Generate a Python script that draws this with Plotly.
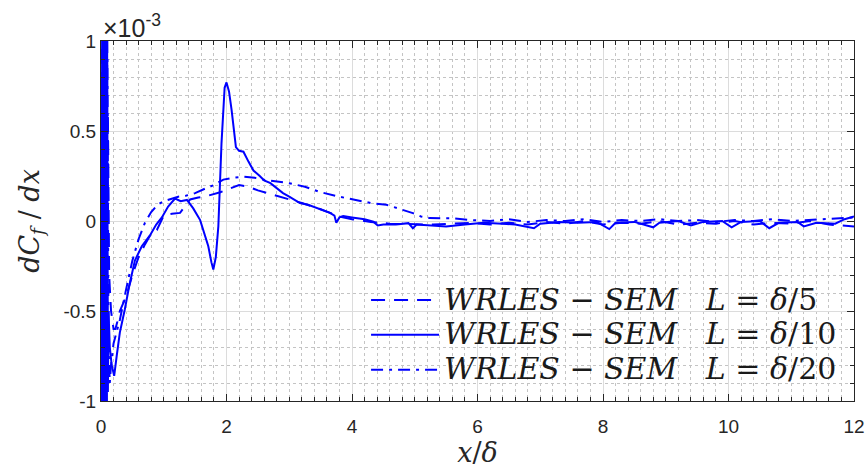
import plotly.graph_objects as go

# units of 1e-3
x_d5 = [0, 0.015, 0.03, 0.045, 0.06, 0.075, 0.09, 0.11, 0.13, 0.16, 0.2, 0.23, 0.26, 0.3, 0.4, 0.5, 0.6,
        0.7, 0.8, 0.89, 1.0, 1.13, 1.26, 1.35, 1.42, 1.55, 1.7, 1.9, 2.05, 2.2, 2.35, 2.5, 2.65, 2.8, 3.0,
        3.2, 3.5, 3.7, 3.8, 4.0, 4.3, 4.6, 5.0, 5.3, 5.6, 5.9, 6.2, 6.5, 6.8, 7.1, 7.4, 7.7, 8.0, 8.3,
        8.6, 8.9, 9.2, 9.5, 9.8, 10.1, 10.4, 10.7, 11.0, 11.3, 11.6, 11.8, 12.0]
y_d5 = [-0.4, 2.0, -2.0, 1.8, -1.5, 1.5, -1.1, 0.6, -0.3, -0.5, -0.6, -0.6, -0.56, -0.5, -0.42, -0.3, -0.2,
        -0.13, -0.07, -0.05, 0.03, 0.04, 0.045, 0.09, 0.12, 0.13, 0.14, 0.16, 0.18, 0.2, 0.19, 0.17, 0.155,
        0.14, 0.12, 0.1, 0.065, 0.04, 0.025, 0.01, -0.005, -0.015, -0.02, -0.02, -0.015, -0.01, -0.02,
        -0.01, -0.02, -0.005, -0.015, 0.0, -0.02, -0.01, -0.015, 0.0, -0.02, -0.01, -0.015, 0.0, -0.02,
        -0.01, -0.015, 0.0, -0.02, -0.025, -0.03]

x_d10 = [0, 0.01, 0.02, 0.03, 0.04, 0.05, 0.06, 0.07, 0.08, 0.09, 0.10, 0.11, 0.12, 0.14, 0.17, 0.21,
         0.25, 0.3, 0.38, 0.45, 0.54, 0.65, 0.78, 0.88, 0.97, 1.07, 1.18, 1.27, 1.37, 1.47, 1.58, 1.65,
         1.71, 1.76, 1.79, 1.83, 1.87, 1.92, 1.97, 2.0, 2.04, 2.08, 2.12, 2.15, 2.2, 2.27, 2.35, 2.43,
         2.53, 2.6, 2.7, 2.8, 2.9, 3.0, 3.17, 3.3, 3.45, 3.55, 3.65, 3.72, 3.75, 3.8, 3.86, 4.0, 4.2,
         4.34, 4.41, 4.5, 4.7, 4.9, 4.97, 5.03, 5.2, 5.5, 5.8, 6.1, 6.4, 6.6, 6.9, 7.0, 7.3, 7.6, 7.9,
         8.1, 8.2, 8.5, 8.8, 8.9, 9.2, 9.4, 9.6, 9.9, 10.05, 10.2, 10.5, 10.65, 10.8, 11.1, 11.2, 11.4,
         11.7, 11.85, 12.0]
y_d10 = [0.8, -2.5, 2.5, -2.0, 2.2, -1.8, 1.6, -1.5, 1.3, -1.2, 0.9, -0.95, -0.5, -0.7, -0.8, -0.86,
         -0.75, -0.62, -0.49, -0.36, -0.22, -0.14, -0.08, -0.02, 0.02, 0.08, 0.125, 0.11, 0.117, 0.07,
         0.005, -0.07, -0.14, -0.23, -0.27, -0.2, -0.03, 0.43, 0.74, 0.77, 0.72, 0.62, 0.48, 0.41, 0.39,
         0.385, 0.33, 0.28, 0.25, 0.225, 0.21, 0.18, 0.155, 0.135, 0.10, 0.09, 0.07, 0.055, 0.045, 0.03,
         -0.01, 0.02, 0.028, 0.02, 0.01, -0.004, -0.025, -0.02, -0.02, -0.012, -0.04, -0.02, -0.025,
         -0.03, -0.02, -0.01, -0.015, -0.02, -0.04, -0.015, -0.005, -0.01, -0.005, -0.045, -0.01,
         -0.005, -0.035, -0.01, 0.0, -0.025, -0.005, 0.0, -0.035, -0.005, 0.0, -0.04, -0.01, -0.005,
         -0.03, -0.01, -0.015, 0.01, 0.025]

x_d20 = [0, 0.02, 0.035, 0.05, 0.065, 0.08, 0.1, 0.12, 0.14, 0.16, 0.2, 0.3, 0.4, 0.5, 0.6, 0.7, 0.8,
         0.9, 1.0, 1.1, 1.23, 1.35, 1.5, 1.66, 1.8, 1.95, 2.1, 2.27, 2.45, 2.58, 2.8, 3.0, 3.25, 3.5,
         3.8, 4.07, 4.3, 4.55, 4.75, 4.97, 5.1, 5.24, 5.6, 5.9, 6.2, 6.5, 6.8, 7.1, 7.4, 7.7, 8.0, 8.3,
         8.6, 8.9, 9.2, 9.5, 9.8, 10.1, 10.4, 10.7, 11.0, 11.3, 11.6, 11.8, 12.0]
y_d20 = [0.3, -1.8, 2.0, -1.6, 1.4, -1.3, 1.1, -0.7, -0.9, -0.8, -0.68, -0.55, -0.38, -0.22, -0.1,
         -0.01, 0.05, 0.09, 0.11, 0.12, 0.135, 0.14, 0.155, 0.18, 0.2, 0.23, 0.24, 0.246, 0.24, 0.23,
         0.22, 0.21, 0.19, 0.16, 0.135, 0.117, 0.1, 0.09, 0.07, 0.044, 0.025, 0.016, 0.015, 0.005, 0.0,
         0.01, -0.005, 0.005, 0.0, 0.01, -0.005, 0.005, 0.0, 0.01, 0.0, 0.005, -0.005, 0.005, 0.0, 0.01,
         0.0, 0.005, 0.01, 0.015, 0.02]

L_labels = ["δ/5", "δ/10", "δ/20"]

x_ticks = [0, 2, 4, 6, 8, 10, 12]
y_ticks = [-1, -0.5, 0, 0.5, 1]
y_ticktext = ["-1", "-0.5", "0", "0.5", "1"]


def legend_name(lab):
    d, n = lab.split("/")
    return ('<span style="font-size:30px"><i>WRLES</i> − <i>SEM</i>&nbsp;&nbsp;&nbsp;<i>L</i> = '
            '<i>' + d + '</i>/' + n + '</span>')


blue = "#0000FF"
fig = go.Figure()
fig.add_trace(go.Scatter(x=x_d5, y=y_d5, mode="lines", name=legend_name(L_labels[0]),
                         line=dict(color=blue, width=2, dash="14px,9px")))
fig.add_trace(go.Scatter(x=x_d10, y=y_d10, mode="lines", name=legend_name(L_labels[1]),
                         line=dict(color=blue, width=2)))
fig.add_trace(go.Scatter(x=x_d20, y=y_d20, mode="lines", name=legend_name(L_labels[2]),
                         line=dict(color=blue, width=2, dash="12px,6px,3px,6px")))

axcol = "#262626"
common = dict(showline=True, linecolor=axcol, linewidth=1, mirror="allticks",
              ticks="inside", ticklen=7, tickcolor=axcol, zeroline=False, automargin=False,
              showgrid=True, gridcolor="#dcdcdc", gridwidth=1,
              tickfont=dict(family="Liberation Sans, Arial", size=19, color=axcol))

fig.update_xaxes(range=[0, 12], tickvals=x_ticks, ticklabelstandoff=8,
                 minor=dict(dtick=0.2, ticks="inside", ticklen=4, tickcolor=axcol,
                            showgrid=True, gridcolor="#c4c4c4", griddash="dot", gridwidth=1),
                 title=dict(text="<i>x</i>/<i>δ</i>", font=dict(family="DejaVu Serif", size=27, color=axcol),
                            standoff=6),
                 **common)
fig.update_yaxes(range=[-1, 1], tickvals=y_ticks, ticktext=y_ticktext,
                 minor=dict(dtick=0.1, ticks="inside", ticklen=4, tickcolor=axcol,
                            showgrid=True, gridcolor="#c4c4c4", griddash="dot", gridwidth=1),
                 title=dict(text="<i>dC<sub>f</sub></i> / <i>dx</i>",
                            font=dict(family="DejaVu Serif", size=27, color=axcol), standoff=16),
                 **common)

fig.add_annotation(text="×10<sup>-3</sup>", xref="paper", yref="paper", x=0.0, y=1.0,
                   xanchor="left", yanchor="bottom", showarrow=False, xshift=0, yshift=-3,
                   font=dict(family="Liberation Sans, Arial", size=25, color=axcol))

fig.update_layout(
    width=867, height=473,
    margin=dict(l=101, r=13, t=41, b=72),
    plot_bgcolor="white", paper_bgcolor="white",
    showlegend=True,
    legend=dict(x=0.352, y=0.343, xanchor="left", yanchor="top", bgcolor="rgba(0,0,0,0)",
                font=dict(family="DejaVu Serif", size=24.5, color="#1a1a1a"),
                itemwidth=68, tracegroupgap=0),
)

fig.write_html("out.html")
